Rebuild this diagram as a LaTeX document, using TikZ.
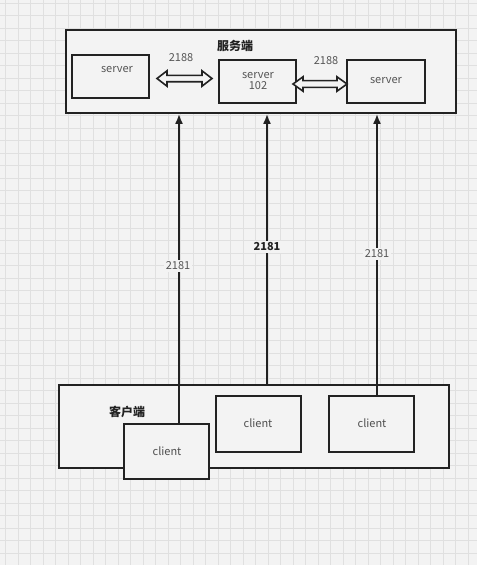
\documentclass[tikz,border=0pt]{standalone}
\usepackage{fontspec}
\setmainfont{Noto Sans CJK SC}
\usetikzlibrary{arrows.meta}

\definecolor{paper}{HTML}{F3F3F3}
\definecolor{gridgray}{HTML}{E0E0E0}
\definecolor{ink}{HTML}{222222}
\definecolor{textgray}{HTML}{555555}

\begin{document}
\begin{tikzpicture}[x=1pt, y=-1pt,
    box/.style={draw=ink, line width=1.8pt, fill=paper, inner sep=0pt},
    txt/.style={text=textgray, font=\fontsize{11}{12}\selectfont, inner sep=1pt},
    conn/.style={draw=ink, line width=1.8pt, -{Latex[length=10pt, width=8pt]}},
    portlbl/.style={txt, fill=paper, inner sep=2pt},
    fatarrow/.style={draw=ink, line width=1.6pt, fill=paper, line join=miter}]
    \useasboundingbox (0,0) rectangle (477,565);
    \fill[paper] (0,0) rectangle (477,565);
    \foreach \gx in {0,...,38} \draw[gridgray, line width=0.7pt] (5.8+12.5*\gx,0) -- (5.8+12.5*\gx,565);
    \foreach \gy in {0,...,45} \draw[gridgray, line width=0.7pt] (0,3+12.5*\gy) -- (477,3+12.5*\gy);

    % server side
    \node (srvgrp) [box, minimum width=390pt, minimum height=83pt] at (261,71.5) {};
    \node (srvtitle) [txt, text=ink, font=\fontsize{12}{13}\selectfont\bfseries] at (235,46) {服务端};
    \node (s1) [box, minimum width=77pt, minimum height=43pt] at (110.5,76.5) {};
    \node (s2) [box, minimum width=77pt, minimum height=43pt] at (257.5,81.5) {};
    \node (s3) [box, minimum width=78pt, minimum height=43pt] at (386,81.5) {};
    \node (s1t) [txt] at (117,70) {server};
    \node (s2t) [txt, align=center, font=\fontsize{11}{11.5}\selectfont] at (258,81) {server\\102};
    \node (s3t) [txt] at (386,81) {server};

    % 2188 links
    \coordinate (lnk1) at (184.5,78.5);
    \coordinate (lnk2) at (320,84);
    \draw[fatarrow] (lnk1) ++(-27.5,0) -- ++(10,-7.7) -- ++(0,4.5) -- ++(35,0) -- ++(0,-4.5)
        -- ++(10,7.7) -- ++(-10,7.7) -- ++(0,-4.5) -- ++(-35,0) -- ++(0,4.5) -- cycle;
    \draw[fatarrow] (lnk2) ++(-27,0) -- ++(10,-7.2) -- ++(0,3.8) -- ++(34,0) -- ++(0,-3.8)
        -- ++(10,7.2) -- ++(-10,7.2) -- ++(0,-3.8) -- ++(-34,0) -- ++(0,3.8) -- cycle;
    \node (lnk1t) [txt] at (181,58) {2188};
    \node (lnk2t) [txt] at (326,61) {2188};

    % client side
    \node (clgrp) [box, minimum width=390pt, minimum height=83pt] at (254,426.5) {};
    \node (cltitle) [txt, text=ink, font=\fontsize{12}{13}\selectfont\bfseries] at (127,412) {客户端};
    \node (c2) [box, minimum width=85pt, minimum height=56pt] at (258.5,424) {};
    \node (c3) [box, minimum width=85pt, minimum height=56pt] at (371.5,424) {};
    \node (c2t) [txt, text=ink!80] at (258,423) {client};
    \node (c3t) [txt, text=ink!80] at (372,423) {client};
    \node (c1) [box, minimum width=85pt, minimum height=55pt] at (166.5,451.5) {};
    \node (c1t) [txt, text=ink!80] at (167,451) {client};

    % connections
    \coordinate (x1) at (179,0);
    \coordinate (x2) at (267,0);
    \coordinate (x3) at (377,0);
    \draw[conn] (c1.north -| x1) -- (srvgrp.south -| x1);
    \draw[conn] (clgrp.north -| x2) -- (srvgrp.south -| x2);
    \draw[conn] (c3.north -| x3) -- (srvgrp.south -| x3);

    \node (p1) [portlbl] at (178,266) {2181};
    \node (p2) [portlbl, text=ink, font=\fontsize{11}{12}\selectfont\bfseries] at (267,247) {2181};
    \node (p3) [portlbl] at (377,254) {2181};
\end{tikzpicture}
\end{document}
